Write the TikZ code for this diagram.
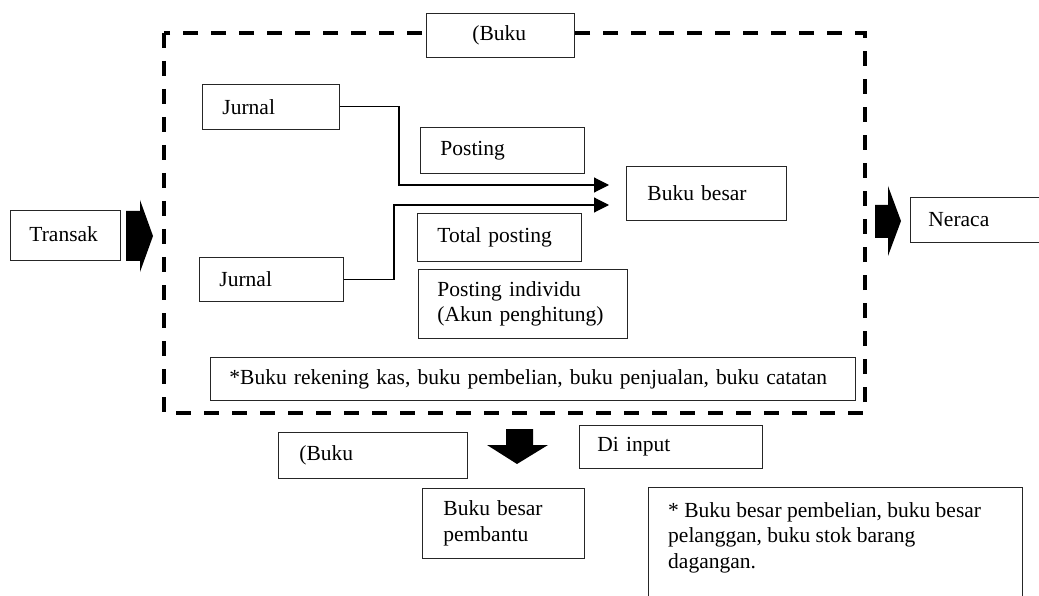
\documentclass[tikz,border=0pt]{standalone}
\usepackage{fontspec}
\setmainfont{Liberation Serif}
\usetikzlibrary{arrows.meta}
\begin{document}
\begin{tikzpicture}[x=1pt,y=-1pt,
  txt/.style={font=\fontsize{21.5}{25.8}\selectfont},
  box/.style={draw=black!85, line width=0.9pt, fill=white, anchor=north west,
    align=left, inner ysep=0pt, txt},
  conn/.style={line width=1.1pt, -{Triangle[length=15pt,width=15pt]}},
  fat/.style={fill=black, draw=none},
  dashbox/.style={line width=3.6pt, dash pattern=on 15pt off 13pt}]
\useasboundingbox (0,0) rectangle (1039,596);

% dashed frame
\draw[dashbox] (164,33) rectangle (865,413);

% boxes
\node[box, inner xsep=19pt, text width=72pt, minimum height=50pt] (tr) at (10,210) {\raisebox{3pt}{Transak}};
\node[box, inner xsep=40pt, text width=68pt, minimum height=44pt] (bk1) at (426,13) {\hspace*{6pt}(Buku};
\node[box, inner xsep=20pt, text width=97pt, minimum height=45pt] (j1) at (202,84) {Jurnal};
\node[box, inner xsep=20pt, text width=124pt, minimum height=46pt] (ps) at (420,127) {Posting};
\node[box, inner xsep=21pt, text width=118pt, minimum height=54pt] (bb) at (626,166) {Buku besar};
\node[box, inner xsep=20pt, text width=124pt, minimum height=48pt] (tp) at (417,213) {\raisebox{2pt}{Total posting}};
\node[box, inner xsep=20pt, text width=104pt, minimum height=44pt] (j2) at (199,257) {Jurnal};
\node[box, inner xsep=19pt, text width=171pt, minimum height=69pt] (pi) at (418,269) {Posting individu\\(Akun penghitung)};
\node[box, inner xsep=19pt, text width=607pt, minimum height=43pt] (n1) at (210,357) {*Buku rekening kas, buku pembelian, buku penjualan, buku catatan};
\node[box, inner xsep=18pt, text width=114pt, minimum height=45pt] (nr) at (910,197) {Neraca};
\node[box, inner xsep=21pt, text width=147pt, minimum height=46pt] (bk2) at (278,432) {(Buku};
\node[box, inner xsep=18pt, text width=147pt, minimum height=43pt] (di) at (579,425) {Di input};
\node[box, inner xsep=21pt, text width=120pt, minimum height=70pt] (bbp) at (422,488) {Buku besar\\pembantu};
\node[box, minimum width=374pt, minimum height=140pt] (n2) at (648,487) {};
\node[txt, anchor=north west, align=left, inner sep=0pt] (n2t) at (668,502)
  {* Buku besar pembelian, buku besar\\pelanggan, buku stok barang\\dagangan.};

% connectors
\coordinate (t1) at (609,185);
\coordinate (t2) at (609,205);
\draw[conn] (j1.east) -| (399,185) -- (t1);
\draw[conn] (j2.east) -| (394,205) -- (t2);

% fat arrows
\fill[fat] (126,211) -- (140,211) -- (140,200) -- (153,236) -- (140,272) -- (140,261) -- (126,261) -- cycle;
\fill[fat] (875,205) -- (888,205) -- (888,186) -- (901,221) -- (888,256) -- (888,238) -- (875,238) -- cycle;
\fill[fat] (506,429) -- (533,429) -- (533,445) -- (548,445) -- (517,464) -- (487,445) -- (506,445) -- cycle;
\end{tikzpicture}
\end{document}
